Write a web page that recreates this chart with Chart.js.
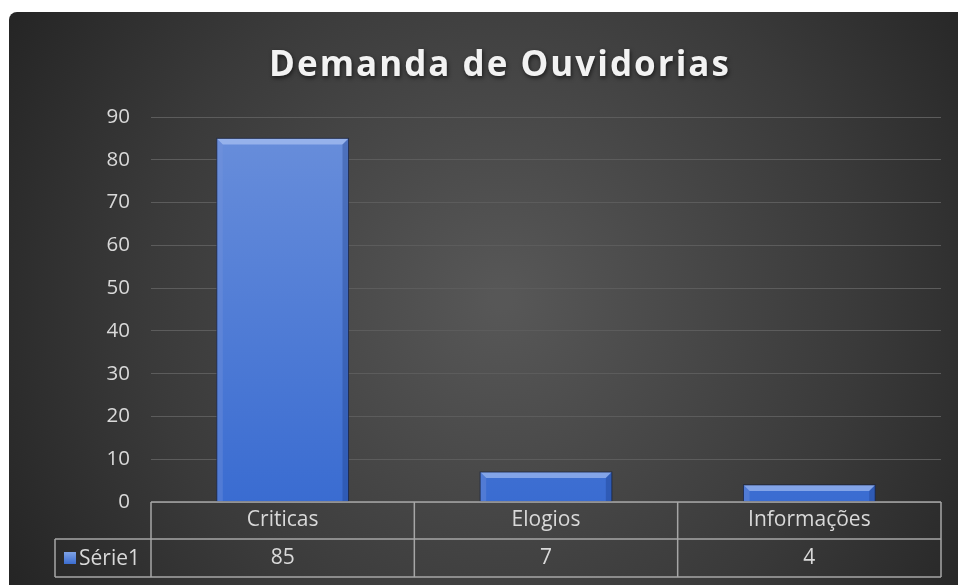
<!DOCTYPE html>
<html>
<head>
<meta charset="utf-8">
<script src="https://cdn.jsdelivr.net/npm/chart.js@4.4.0/dist/chart.umd.min.js"></script>
<style>
  body { margin: 0; background: #ffffff; }
  #wrap { position: absolute; left: 9px; top: 12px; width: 949px; height: 573px; border-top-left-radius: 8px; overflow: hidden; }
</style>
</head>
<body>
<div id="wrap"><canvas id="demanda-chart" width="949" height="573"></canvas></div>
<script>
var categories = ["Criticas", "Elogios", "Informações"];
var seriesName = "Série1";
var values = [85, 7, 4];
var yTicks = [0, 10, 20, 30, 40, 50, 60, 70, 80, 90];

var labelFont = '"Open Sans", "Noto Sans", sans-serif';
var textColor = '#d9d9d9';
var lineColor = '#a6a6a6';

// radial dark background like the Excel style
var backgroundPlugin = {
    id: 'bg',
    beforeDraw: function(chart) {
        var c = chart.ctx, w = chart.width, h = chart.height;
        var g = c.createRadialGradient(w * 0.52, h * 0.5, 10, w * 0.52, h * 0.5, w * 0.62);
        g.addColorStop(0, '#575757');
        g.addColorStop(0.6, '#3a3a3a');
        g.addColorStop(1, '#232323');
        c.save();
        c.fillStyle = g;
        c.fillRect(0, 0, w, h);
        c.restore();
    }
};

var titlePlugin = {
    id: 'spacedTitle',
    afterDraw: function(chart) {
        var c = chart.ctx;
        c.save();
        c.font = 'bold 35px ' + labelFont;
        c.letterSpacing = '2px';
        c.textAlign = 'center';
        c.textBaseline = 'alphabetic';
        c.shadowColor = 'rgba(0,0,0,0.6)';
        c.shadowBlur = 4;
        c.shadowOffsetX = 1;
        c.shadowOffsetY = 2;
        c.fillStyle = '#f2f2f2';
        c.fillText('Demanda de Ouvidorias', 491, 64);
        c.restore();
    }
};

// bevel on each bar, using the bar element geometry
var bevelPlugin = {
    id: 'bevel',
    afterDatasetsDraw: function(chart) {
        var c = chart.ctx;
        var meta = chart.getDatasetMeta(0);
        c.save();
        meta.data.forEach(function(bar) {
            var l = bar.x - bar.width / 2, r = bar.x + bar.width / 2;
            var t = bar.y, b = bar.base, d = 6;
            // top light edge
            c.fillStyle = 'rgba(190,210,250,0.55)';
            c.beginPath();
            c.moveTo(l, t); c.lineTo(r, t); c.lineTo(r - d, t + d); c.lineTo(l + d, t + d); c.closePath();
            c.fill();
            // left edge
            c.fillStyle = 'rgba(120,150,220,0.35)';
            c.beginPath();
            c.moveTo(l, t); c.lineTo(l + d, t + d); c.lineTo(l + d, b); c.lineTo(l, b); c.closePath();
            c.fill();
            // right edge darker
            c.fillStyle = 'rgba(20,50,120,0.3)';
            c.beginPath();
            c.moveTo(r, t); c.lineTo(r - d, t + d); c.lineTo(r - d, b); c.lineTo(r, b); c.closePath();
            c.fill();
            c.strokeStyle = 'rgba(20,30,60,0.7)';
            c.lineWidth = 1;
            c.strokeRect(l, t, r - l, b - t);
        });
        c.restore();
    }
};

// data table under the plot, columns taken from the x scale
var tablePlugin = {
    id: 'dataTable',
    afterDraw: function(chart) {
        var c = chart.ctx, xs = chart.scales.x, area = chart.chartArea;
        var row1 = area.bottom, row2 = area.bottom + 37, row3 = area.bottom + 75;
        var keyLeft = 46;
        c.save();
        c.strokeStyle = lineColor;
        c.lineWidth = 1.5;
        c.beginPath();
        c.moveTo(area.left, row1); c.lineTo(area.right, row1);
        c.moveTo(keyLeft, row2); c.lineTo(area.right, row2);
        c.moveTo(keyLeft, row3); c.lineTo(area.right, row3);
        c.moveTo(keyLeft, row2); c.lineTo(keyLeft, row3);
        c.moveTo(area.left, row1); c.lineTo(area.left, row3);
        for (var i = 0; i < categories.length; i++) {
            var edge = xs.getPixelForValue(i) + (xs.getPixelForValue(1) - xs.getPixelForValue(0)) / 2;
            c.moveTo(edge, row1); c.lineTo(edge, row3);
        }
        c.stroke();

        c.fillStyle = textColor;
        c.font = '21px ' + labelFont;
        c.textAlign = 'center';
        c.textBaseline = 'middle';
        categories.forEach(function(cat, i) {
            var x = xs.getPixelForValue(i);
            c.fillText(cat, x, (row1 + row2) / 2);
            c.fillText(String(values[i]), x, (row2 + row3) / 2);
        });

        // legend key
        var ky = (row2 + row3) / 2;
        var kg = c.createLinearGradient(0, ky - 6, 0, ky + 6);
        kg.addColorStop(0, '#7fa3e6');
        kg.addColorStop(1, '#3b6dd0');
        c.fillStyle = kg;
        c.fillRect(keyLeft + 9, ky - 6, 12, 12);
        c.fillStyle = textColor;
        c.textAlign = 'left';
        c.fillText(seriesName, keyLeft + 24, ky + 1);
        c.restore();
    }
};

var ctx = document.getElementById('demanda-chart').getContext('2d');
var chart = new Chart(ctx, {
    type: 'bar',
    data: {
        labels: categories,
        datasets: [{
            label: seriesName,
            data: values,
            backgroundColor: function(context) {
                var area = context.chart.chartArea;
                if (!area) return '#4f7dd6';
                var g = context.chart.ctx.createLinearGradient(0, area.top, 0, area.bottom);
                g.addColorStop(0, '#6a8fdb');
                g.addColorStop(1, '#3a6cd1');
                return g;
            },
            borderWidth: 0,
            categoryPercentage: 1.0,
            barPercentage: 0.5,
        }]
    },
    options: {
        responsive: false,
        animation: false,
        layout: {
            padding: { top: 105, right: 17, bottom: 75, left: 0 }
        },
        plugins: {
            legend: { display: false },
            title: { display: false },
            tooltip: { enabled: false },
        },
        scales: {
            x: {
                ticks: { display: false },
                grid: { display: false },
                border: { display: false },
            },
            y: {
                min: 0,
                max: 90,
                afterBuildTicks: function(scale) {
                    scale.ticks = yTicks.map(function(v) { return { value: v }; });
                },
                afterFit: function(scale) { scale.width = 142; },
                ticks: {
                    color: textColor,
                    font: { family: labelFont, size: 20.5 },
                    padding: 21,
                },
                grid: { color: '#5c5c5c', lineWidth: 1, drawTicks: false },
                border: { display: false },
            }
        }
    },
    plugins: [backgroundPlugin, bevelPlugin, tablePlugin, titlePlugin]
});
</script>
</body>
</html>
